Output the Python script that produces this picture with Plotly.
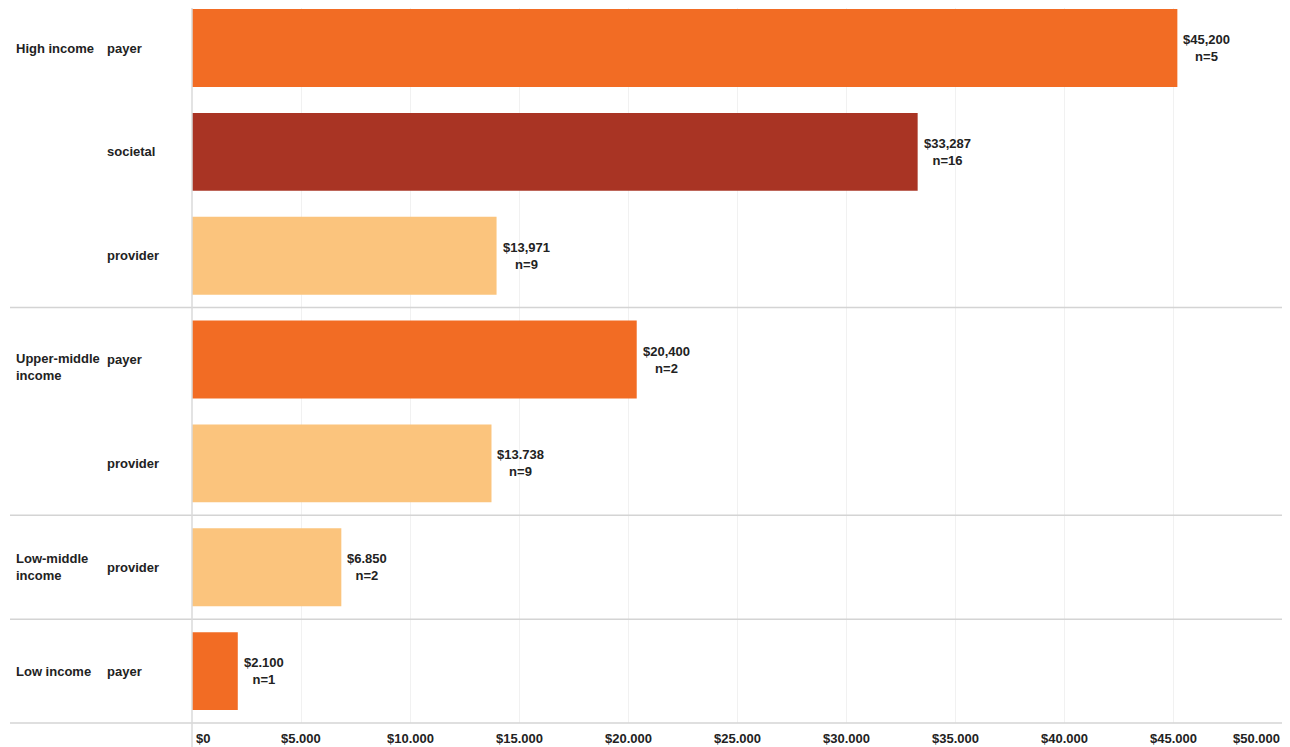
import plotly.graph_objects as go

# ---- data ----
group_labels = ["High income", "Upper-middle<br>income", "Low-middle<br>income", "Low income"]
group_first_row = [0, 3, 5, 6]
perspectives = ["payer", "societal", "provider", "payer", "provider", "provider", "payer"]
values = [45200, 33287, 13971, 20400, 13738, 6850, 2100]
value_labels = ["$45,200", "$33,287", "$13,971", "$20,400", "$13.738", "$6.850", "$2.100"]
n_studies = [5, 16, 9, 2, 9, 2, 1]
tick_vals = [0, 5000, 10000, 15000, 20000, 25000, 30000, 35000, 40000, 45000, 50000]
tick_text = ["$0", "$5.000", "$10.000", "$15.000", "$20.000", "$25.000", "$30.000",
             "$35.000", "$40.000", "$45.000", "$50.000"]
separators_after_row = [2, 4, 5]

colors = {"payer": "#F26C24", "societal": "#A93424", "provider": "#FBC47D"}
FONT = "Liberation Sans, Arial, sans-serif"
TXT = "#222222"

OFF = 8
W, H = 1290 - OFF, 747 - OFF
PLOT_LEFT, PLOT_RIGHT, PLOT_BOTTOM = 192, 1282, 723
L = PLOT_LEFT - OFF
R = 1290 - PLOT_RIGHT
T = 0
B = 747 - PLOT_BOTTOM
plot_w = PLOT_RIGHT - PLOT_LEFT
plot_h = H - T - B

rows = list(range(len(values)))

fig = go.Figure()
fig.add_trace(go.Bar(
    x=values, y=rows, orientation="h",
    marker=dict(color=[colors[p] for p in perspectives], line=dict(width=0)),
    width=0.75, hoverinfo="skip",
))

ann = []
for r, v, lab, n in zip(rows, values, value_labels, n_studies):
    ann.append(dict(x=v, y=r, xref="x", yref="y", xanchor="left", yanchor="middle",
                    xshift=4, align="center", showarrow=False,
                    text=f"{lab}<br>n={n}",
                    font=dict(family=FONT, size=13, color=TXT, weight="bold")))

px_to_paper = lambda px: (px - PLOT_LEFT) / plot_w
for r, p in zip(rows, perspectives):
    ann.append(dict(x=px_to_paper(105), y=r, xref="paper", yref="y", xanchor="left",
                    yanchor="middle", showarrow=False, text=p, align="left",
                    font=dict(family=FONT, size=13, color=TXT, weight="bold")))
for g, r in zip(group_labels, group_first_row):
    ann.append(dict(x=px_to_paper(14), y=r, xref="paper", yref="y", xanchor="left",
                    yanchor="middle", showarrow=False, text=g, align="left",
                    yshift=-7 if r == 3 else 0,
                    font=dict(family=FONT, size=13, color=TXT, weight="bold")))
for i, (tv, tt) in enumerate(zip(tick_vals, tick_text)):
    anchor = "left" if i == 0 else ("right" if i == len(tick_vals) - 1 else "center")
    ann.append(dict(x=tv, y=0, xref="x", yref="paper", xanchor=anchor, yanchor="top",
                    xshift=2 if i == 0 else 0, yshift=-6, showarrow=False, text=tt,
                    font=dict(family=FONT, size=13, color=TXT, weight="bold")))

shapes = []
line_col = "#D4D4D4"
for s in separators_after_row:
    shapes.append(dict(type="line", xref="paper", yref="y", x0=px_to_paper(10), x1=px_to_paper(1285),
                       y0=s + 0.5, y1=s + 0.5, line=dict(color=line_col, width=1.5)))
shapes.append(dict(type="line", xref="paper", yref="paper", x0=px_to_paper(10), x1=px_to_paper(1285),
                   y0=0, y1=0, line=dict(color=line_col, width=1.5)))
shapes.append(dict(type="line", xref="paper", yref="paper", x0=0, x1=0,
                   y0=-B / plot_h, y1=1, line=dict(color="#DADADA", width=1.5)))
shapes.append(dict(type="line", xref="paper", yref="paper", x0=px_to_paper(1285), x1=px_to_paper(1285),
                   y0=-B / plot_h, y1=1.02, line=dict(color="#CFCFCF", width=2.5)))

spacing = (PLOT_BOTTOM - 48) / 6.5
y_top = -(48 - OFF) / spacing

fig.update_layout(
    width=W, height=H,
    margin=dict(l=L, r=R, t=T, b=B),
    paper_bgcolor="white", plot_bgcolor="white",
    showlegend=False,
    xaxis=dict(range=[0, 50000], tickvals=tick_vals, showticklabels=False,
               showgrid=True, gridcolor="#F1F1F1", gridwidth=1, zeroline=False,
               showline=False, fixedrange=True),
    yaxis=dict(range=[6.5, y_top], showticklabels=False, showgrid=False,
               zeroline=False, showline=False, fixedrange=True),
    annotations=ann, shapes=shapes,
)

fig.write_html("out.html")
